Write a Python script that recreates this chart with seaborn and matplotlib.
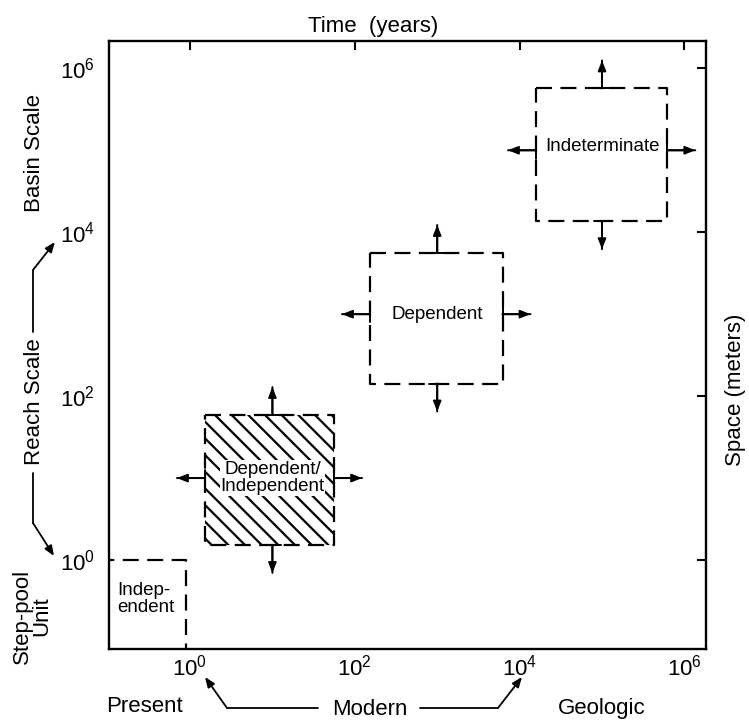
import numpy as np
import pandas as pd
import matplotlib
matplotlib.use("Agg")
import matplotlib.pyplot as plt
from matplotlib.patches import Rectangle
from matplotlib.lines import Line2D
from matplotlib.ticker import NullLocator
import seaborn as sns

# ---------------- data ----------------
x_ticks = [1e0, 1e2, 1e4, 1e6]
y_ticks = [1e0, 1e2, 1e4, 1e6]

box_labels = ["Indep-\nendent", "Dependent/\nIndependent", "Dependent", "Indeterminate"]
box_x_lo = [0.01, 1.52, 153, 1.58e4]
box_x_hi = [0.9, 56, 6200, 6.2e5]
box_y_lo = [0.01, 1.52, 142, 1.36e4]
box_y_hi = [1.0, 59, 5600, 5.7e5]
label_x = [0.13, 10, 1e3, 1e5]
label_y = [0.33, 10, 1e3, 1.1e5]
hatched = [False, True, False, False]
arrow_x = [None, 10, 1e3, 1e5]   # x position of vertical expansion arrows
arrow_y = [None, 10, 1e3, 1e5]   # y position of horizontal expansion arrows

# ---------------- style ----------------
sns.set_theme(style="white")
plt.rcParams["font.family"] = ["Liberation Sans", "DejaVu Sans"]
plt.rcParams["text.color"] = "black"
plt.rcParams["axes.labelcolor"] = "black"
plt.rcParams["xtick.color"] = "black"
plt.rcParams["ytick.color"] = "black"
plt.rcParams["mathtext.fontset"] = "custom"
plt.rcParams["mathtext.rm"] = "Liberation Sans"
plt.rcParams["mathtext.it"] = "Liberation Sans:italic"
plt.rcParams["mathtext.bf"] = "Liberation Sans:bold"
plt.rcParams["mathtext.sf"] = "Liberation Sans"
plt.rcParams["hatch.linewidth"] = 1.6

W, H = 749, 723
fig = plt.figure(figsize=(W / 100, H / 100), dpi=100)
fig.patch.set_facecolor("white")
ax = fig.add_axes([109 / W, 1 - 649 / H, (706 - 109) / W, (649 - 40.7) / H])
ax.set_xscale("log")
ax.set_yscale("log")
ax.set_xlim(10 ** -0.983, 10 ** 6.262)
ax.set_ylim(10 ** -1.086, 10 ** 6.337)
ax.set_facecolor("white")

DASH = (0, (7.2, 3.8))
F = 10 ** 0.34  # arrow reach (visual length)
head = "-|>,head_length=0.5,head_width=0.2"

for i in range(len(box_labels)):
    x0, x1, y0, y1 = box_x_lo[i], box_x_hi[i], box_y_lo[i], box_y_hi[i]
    if hatched[i]:
        ax.add_patch(Rectangle((x0, y0), x1 - x0, y1 - y0, facecolor="none",
                               edgecolor="black", linewidth=0, hatch="\\\\", zorder=1))
    xs = [x0, x1, x1, x0, x0]
    ys = [y1, y1, y0, y0, y1]
    sns.lineplot(x=xs, y=ys, sort=False, estimator=None, color="black",
                 linewidth=1.6, linestyle=DASH, ax=ax, zorder=3)
    if i == 0:
        ax.text(label_x[i], label_y[i], box_labels[i], ha="left", va="center",
                fontsize=13.5, linespacing=1.0, color="black", zorder=5)
    else:
        bb = dict(facecolor="white", edgecolor="none", pad=0.5) if hatched[i] else None
        ax.text(label_x[i], label_y[i], box_labels[i], ha="center", va="center",
                fontsize=13.5, linespacing=1.0, bbox=bb, color="black", zorder=5)
    if arrow_x[i] is not None:
        ax_, ay_ = arrow_x[i], arrow_y[i]
        arrows = [((ax_, y1), (ax_, y1 * F)), ((ax_, y0), (ax_, y0 / F)),
                  ((x0, ay_), (x0 / F, ay_)), ((x1, ay_), (x1 * F, ay_))]
        for base, tip in arrows:
            ax.annotate("", xy=tip, xytext=base,
                        arrowprops=dict(arrowstyle=head, color="black", lw=1.4,
                                        shrinkA=0, shrinkB=0, mutation_scale=12),
                        zorder=6)
            ax.annotate("", xy=tip, xytext=base,
                        arrowprops=dict(arrowstyle="]-,widthA=0.5,lengthA=0", color="black",
                                        lw=1.4, shrinkA=0, shrinkB=0, mutation_scale=12),
                        zorder=6)

# ticks / spines
ax.set_xticks(x_ticks)
ax.set_yticks(y_ticks)
ax.xaxis.set_minor_locator(NullLocator())
ax.yaxis.set_minor_locator(NullLocator())
ax.tick_params(which="major", direction="in", length=6.5, width=1.5, color="black",
               top=True, right=True, labeltop=False, labelright=False,
               labelsize=16, labelcolor="black")
ax.tick_params(axis="x", pad=4)
ax.tick_params(axis="y", pad=10)
for s in ax.spines.values():
    s.set_visible(True)
    s.set_color("black")
    s.set_linewidth(1.7)
ax.grid(False)
ax.set_xlabel("")
ax.set_ylabel("")


# ---------------- outer annotations (figure pixel positions) ----------------
def P(x, y):
    return (x / W, 1 - y / H)


fs = 16
fig.text(*P(373, 31.7), "Time  (years)", ha="center", va="baseline", fontsize=fs)
fig.text(*P(735, 390), "Space (meters)", ha="center", va="center", rotation=90, fontsize=fs)
fig.text(*P(34, 153), "Basin Scale", ha="center", va="center", rotation=90, fontsize=fs)
fig.text(*P(34, 402), "Reach Scale", ha="center", va="center", rotation=90, fontsize=fs)
fig.text(*P(32, 616), "Step-pool\nUnit", ha="center", va="center", rotation=90,
         fontsize=fs, linespacing=0.9, multialignment="center")
fig.text(*P(144, 712), "Present", ha="center", va="baseline", fontsize=fs)
fig.text(*P(370, 715), "Modern", ha="center", va="baseline", fontsize=fs)
fig.text(*P(602, 714), "Geologic", ha="center", va="baseline", fontsize=fs)


def poly(pts):
    xs = [P(*p)[0] for p in pts]
    ys = [P(*p)[1] for p in pts]
    fig.add_artist(Line2D(xs, ys, transform=fig.transFigure, color="black", lw=1.3))


def farrow(a, b):
    ax.annotate("", xy=P(*b), xycoords="figure fraction", xytext=P(*a),
                textcoords="figure fraction", annotation_clip=False,
                arrowprops=dict(arrowstyle=head, color="black", lw=1.3,
                                shrinkA=0, shrinkB=0, mutation_scale=12))


poly([(33, 332), (33, 270)])
farrow((33, 270), (55, 242))
poly([(33, 473), (33, 523)])
farrow((33, 523), (54, 556))
poly([(318, 708), (227, 708)])
farrow((227, 708), (205, 677))
poly([(420, 708), (498, 708)])
farrow((498, 708), (522, 677))

fig.savefig("out.png", dpi=100, facecolor="white")
